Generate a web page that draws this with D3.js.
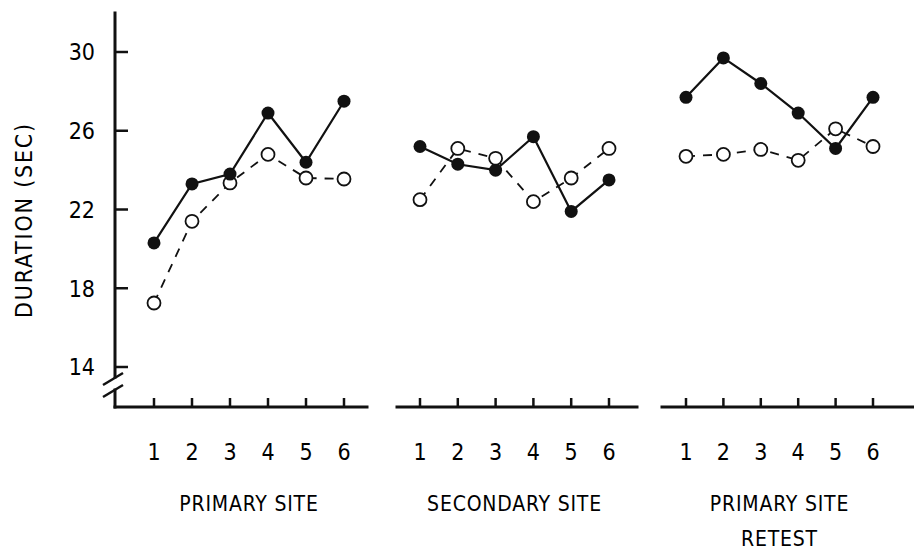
<!DOCTYPE html>
<meta charset="utf-8">
<style>
body { margin: 0; background: #fff; }
text { font-family: "DejaVu Sans Condensed", "DejaVu Sans", sans-serif; fill: #000; }
.axis { stroke: #111; stroke-width: 3px; fill: none; stroke-linecap: square; }
.tick { stroke: #111; stroke-width: 2.5px; }
.solid { stroke: #111; stroke-width: 2.2px; fill: none; }
.dashed { stroke: #111; stroke-width: 1.8px; fill: none; stroke-dasharray: 9 8; }
</style>
<svg width="914" height="553"></svg>
<script src="https://d3js.org/d3.v7.min.js"></script>
<script>

var trials = [1, 2, 3, 4, 5, 6];
var yTicks = [14, 18, 22, 26, 30];
var panelTitles = [["PRIMARY SITE"], ["SECONDARY SITE"], ["PRIMARY SITE", "RETEST"]];

// filled circles, solid line
var filledPrimary   = [20.3, 23.3, 23.8, 26.9, 24.4, 27.5];
var filledSecondary = [25.2, 24.3, 24.0, 25.7, 21.9, 23.5];
var filledRetest    = [27.7, 29.7, 28.4, 26.9, 25.1, 27.7];

// open circles, dashed line
var openPrimary   = [17.25, 21.4, 23.35, 24.8, 23.6, 23.55];
var openSecondary = [22.5, 25.1, 24.6, 22.4, 23.6, 25.1];
var openRetest    = [24.7, 24.8, 25.05, 24.5, 26.1, 25.2];

var filled = [filledPrimary, filledSecondary, filledRetest];
var open = [openPrimary, openSecondary, openRetest];

var svg = d3.select("svg");

var axisY = 407;
var y = d3.scaleLinear().domain([14, 30]).range([367, 52]);

var panels = [
  { axis: [115, 367], range: [154, 344] },
  { axis: [397, 637], range: [420, 609] },
  { axis: [662, 914], range: [686, 873] }
];

// y axis with break
var yAxisX = 115;
svg.append("line").attr("class", "axis")
    .attr("x1", yAxisX).attr("x2", yAxisX).attr("y1", 13).attr("y2", 377);
svg.append("line").attr("class", "axis")
    .attr("x1", yAxisX).attr("x2", yAxisX).attr("y1", 390).attr("y2", axisY);
[378, 390].forEach(function(b) {
  svg.append("line").attr("class", "tick")
      .attr("x1", yAxisX - 12).attr("y1", b + 7)
      .attr("x2", yAxisX + 8).attr("y2", b - 5);
});

svg.selectAll(".ytick").data(yTicks).enter().append("line")
    .attr("class", "tick")
    .attr("x1", yAxisX).attr("x2", yAxisX + 13)
    .attr("y1", function(d) { return y(d); })
    .attr("y2", function(d) { return y(d); });

svg.selectAll(".ylab").data(yTicks).enter().append("text")
    .attr("x", 95)
    .attr("y", function(d) { return y(d); })
    .attr("dy", "0.36em")
    .attr("text-anchor", "end")
    .attr("font-size", 23)
    .text(function(d) { return d; });

svg.append("text")
    .attr("transform", "translate(32,220) rotate(-90)")
    .attr("text-anchor", "middle")
    .attr("font-size", 23)
    .attr("letter-spacing", 1.8)
    .text("DURATION (SEC)");

var line = d3.line();

panels.forEach(function(p, i) {
  var x = d3.scalePoint().domain(trials).range(p.range);
  var g = svg.append("g");

  g.append("line").attr("class", "axis")
      .attr("x1", p.axis[0]).attr("x2", p.axis[1])
      .attr("y1", axisY).attr("y2", axisY);

  g.selectAll(".xtick").data(trials).enter().append("line")
      .attr("class", "tick")
      .attr("x1", function(d) { return x(d); })
      .attr("x2", function(d) { return x(d); })
      .attr("y1", axisY).attr("y2", axisY - 9);

  g.selectAll(".xlab").data(trials).enter().append("text")
      .attr("x", function(d) { return x(d); })
      .attr("y", 452)
      .attr("dy", "0.36em")
      .attr("text-anchor", "middle")
      .attr("font-size", 23)
      .text(function(d) { return d; });

  var cx = (p.range[0] + p.range[1]) / 2;
  panelTitles[i].forEach(function(t, j) {
    g.append("text")
        .attr("x", cx)
        .attr("y", 503 + j * 35)
        .attr("dy", "0.36em")
        .attr("text-anchor", "middle")
        .attr("font-size", 21)
        .attr("letter-spacing", 0.8)
        .text(t);
  });

  var openPts = open[i].map(function(v, k) { return [x(trials[k]), y(v)]; });
  var filledPts = filled[i].map(function(v, k) { return [x(trials[k]), y(v)]; });

  g.append("path").attr("class", "dashed").attr("d", line(openPts));
  g.append("path").attr("class", "solid").attr("d", line(filledPts));

  g.selectAll(".open").data(openPts).enter().append("circle")
      .attr("cx", function(d) { return d[0]; })
      .attr("cy", function(d) { return d[1]; })
      .attr("r", 6.5)
      .attr("fill", "#fff")
      .attr("stroke", "#111")
      .attr("stroke-width", 1.8);

  g.selectAll(".filled").data(filledPts).enter().append("circle")
      .attr("cx", function(d) { return d[0]; })
      .attr("cy", function(d) { return d[1]; })
      .attr("r", 6.5)
      .attr("fill", "#111");
});

</script>
